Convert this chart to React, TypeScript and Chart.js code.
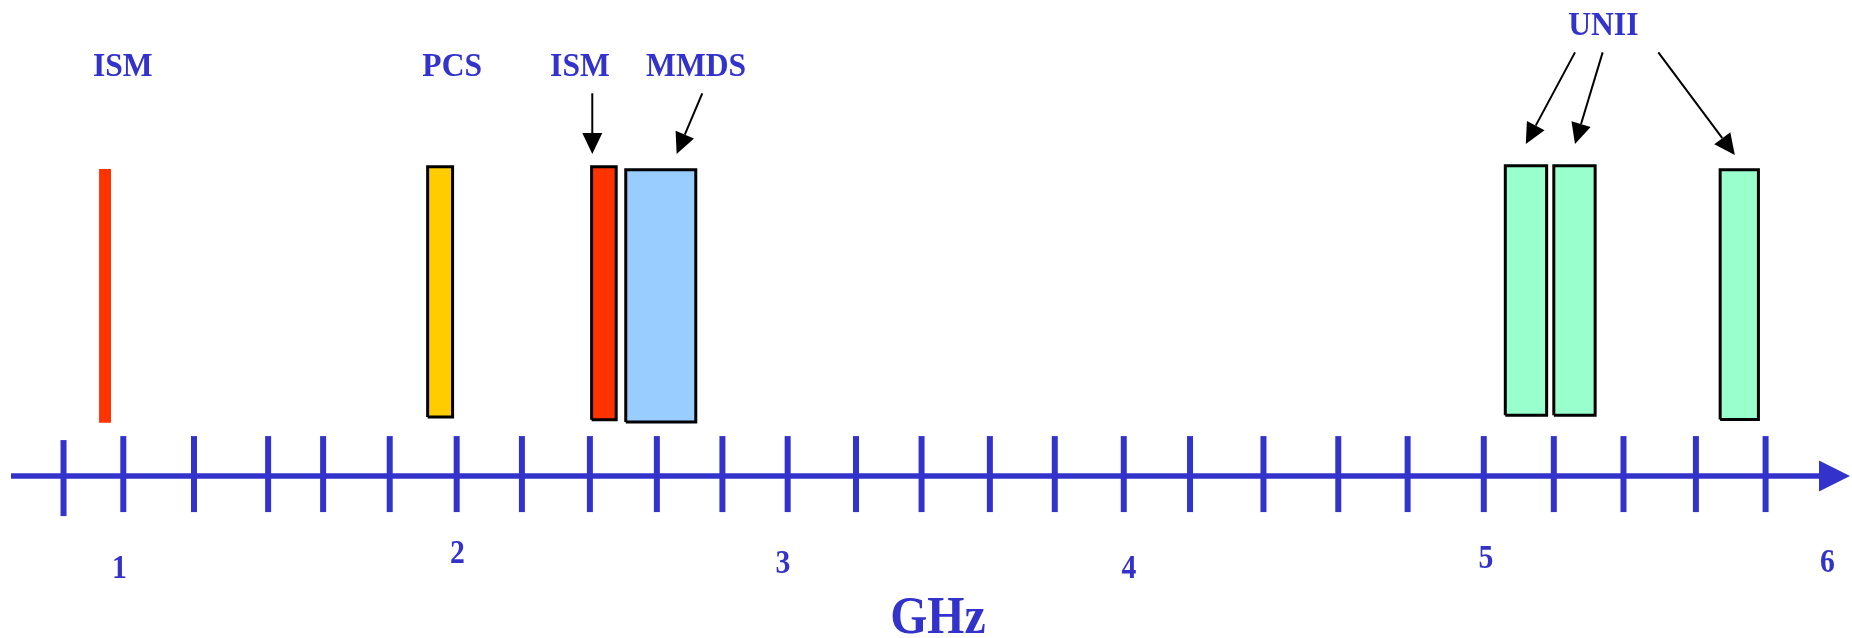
import React, { useEffect, useRef } from "react";
import { Chart, registerables } from "chart.js";

Chart.register(...registerables);

// ---- Data (GHz on x, relative band height on y) ----
const BAND_NAMES = ["ISM", "PCS", "ISM", "MMDS", "UNII-1", "UNII-2", "UNII-3"];
const BAND_START = [0.940, 1.902, 2.382, 2.482, 5.057, 5.199, 5.686];
const BAND_END = [0.975, 1.975, 2.454, 2.687, 5.178, 5.320, 5.798];
const BAND_LOW = [-1.3, 0.9, -0.1, -1.0, 1.6, 1.6, 0.0];
const BAND_HIGH = [98.5, 99.4, 99.4, 98.2, 99.8, 99.8, 98.2];
const BAND_FILL = ["#FF3300", "#FFCC00", "#FF3300", "#99CCFF", "#99FFCC", "#99FFCC", "#99FFCC"];
const BAND_OUTLINED = [false, true, true, true, true, true, true];

const AXIS_TICKS = [
  0.836, 1.011, 1.218, 1.435, 1.596, 1.791, 1.987, 2.178, 2.377, 2.573, 2.765, 2.956, 3.156,
  3.348, 3.548, 3.738, 3.940, 4.134, 4.349, 4.568, 4.771, 4.994, 5.199, 5.403, 5.615, 5.819,
];
const TICK_LABELS = ["1", "2", "3", "4", "5", "6"];
const TICK_LABEL_AT = [1.0, 1.989, 2.942, 3.955, 5.0, 6.0];
const AXIS_TITLE = "GHz";

const NAME_LABELS = ["ISM", "PCS", "ISM", "MMDS", "UNII"];
const NAME_LABEL_X = [1.0095, 1.974, 2.348, 2.688, 5.344];
const NAME_LABEL_Y = [135.1, 135.1, 135.1, 135.1, 151.2];

const ARROW_FROM_X = [2.384, 2.706, 5.261, 5.342, 5.505];
const ARROW_FROM_Y = [128.3, 128.3, 144.4, 144.4, 144.4];
const ARROW_TO_X = [2.384, 2.631, 5.117, 5.261, 5.729];
const ARROW_TO_Y = [104.4, 104.4, 108.3, 108.3, 104.0];

const X_MIN = 0.65;
const X_MAX = 6.072;
const Y_MIN = -86;
const Y_MAX = 165;
const AXIS_LEVEL = -22.3;
const TICK_LABEL_LEVEL = -60.0;
const TITLE_LEVEL = -84.2;
const TITLE_AT = 3.396;

// style: hand-placed vertical nudges (px) of the number labels
const TICK_LABEL_NUDGE = [6, -9, 1, 6, -4, 0];

const BLUE = "#3333CC";
const FONT = '"Liberation Serif", "Times New Roman", serif';

function drawText(ctx: CanvasRenderingContext2D, text: string, x: number, y: number, size: number, sx: number) {
  ctx.save();
  ctx.translate(x, y);
  ctx.scale(sx, 1);
  ctx.font = `bold ${size}px ${FONT}`;
  ctx.textAlign = "center";
  ctx.textBaseline = "alphabetic";
  ctx.fillStyle = BLUE;
  ctx.fillText(text, 0, 0);
  ctx.restore();
}

const spectrumPlugin = {
  id: "spectrumAxis",
  afterDatasetsDraw(chart: any) {
    const ctx: CanvasRenderingContext2D = chart.ctx;
    const xs = chart.scales.x;
    const ys = chart.scales.y;
    const area = chart.chartArea;
    const axisY = ys.getPixelForValue(AXIS_LEVEL);

    ctx.save();
    // axis line + arrow head
    const headLen = 31;
    const headHalf = 15.5;
    const tipX = area.right - 2;
    ctx.strokeStyle = BLUE;
    ctx.fillStyle = BLUE;
    ctx.lineWidth = 5.5;
    ctx.beginPath();
    ctx.moveTo(area.left + 11, axisY);
    ctx.lineTo(tipX - headLen + 2, axisY);
    ctx.stroke();
    ctx.beginPath();
    ctx.moveTo(tipX, axisY);
    ctx.lineTo(tipX - headLen, axisY - headHalf);
    ctx.lineTo(tipX - headLen, axisY + headHalf);
    ctx.closePath();
    ctx.fill();

    // tick marks
    ctx.lineWidth = 6;
    AXIS_TICKS.forEach((v, i) => {
      const px = xs.getPixelForValue(v);
      const shift = i === 0 ? 4 : 0;
      ctx.beginPath();
      ctx.moveTo(px, axisY - 40 + shift);
      ctx.lineTo(px, axisY + 36 + shift);
      ctx.stroke();
    });

    // tick labels
    const labelY = ys.getPixelForValue(TICK_LABEL_LEVEL);
    TICK_LABELS.forEach((t, i) => {
      drawText(ctx, t, xs.getPixelForValue(TICK_LABEL_AT[i]), labelY + TICK_LABEL_NUDGE[i], 33, 0.9);
    });

    // axis title
    drawText(ctx, AXIS_TITLE, xs.getPixelForValue(TITLE_AT), ys.getPixelForValue(TITLE_LEVEL), 53, 0.9);

    // band name labels
    NAME_LABELS.forEach((t, i) => {
      drawText(ctx, t, xs.getPixelForValue(NAME_LABEL_X[i]), ys.getPixelForValue(NAME_LABEL_Y[i]), 34, 0.93);
    });

    // annotation arrows
    ctx.strokeStyle = "#000000";
    ctx.fillStyle = "#000000";
    ctx.lineWidth = 2;
    ARROW_FROM_X.forEach((fx, i) => {
      const x1 = xs.getPixelForValue(fx);
      const y1 = ys.getPixelForValue(ARROW_FROM_Y[i]);
      const x2 = xs.getPixelForValue(ARROW_TO_X[i]);
      const y2 = ys.getPixelForValue(ARROW_TO_Y[i]);
      const ang = Math.atan2(y2 - y1, x2 - x1);
      const len = 21;
      const half = 10;
      const bx = x2 - len * Math.cos(ang);
      const by = y2 - len * Math.sin(ang);
      ctx.beginPath();
      ctx.moveTo(x1, y1);
      ctx.lineTo(bx, by);
      ctx.stroke();
      ctx.beginPath();
      ctx.moveTo(x2, y2);
      ctx.lineTo(bx + half * Math.sin(ang), by - half * Math.cos(ang));
      ctx.lineTo(bx - half * Math.sin(ang), by + half * Math.cos(ang));
      ctx.closePath();
      ctx.fill();
    });
    ctx.restore();
  },
};

export default function App() {
  const canvasRef = useRef<HTMLCanvasElement | null>(null);

  useEffect(() => {
    if (!canvasRef.current) return;
    const datasets = BAND_NAMES.map((name, i) => ({
      type: "line" as const,
      label: name,
      data: [
        { x: BAND_START[i], y: BAND_LOW[i] },
        { x: BAND_START[i], y: BAND_HIGH[i] },
        { x: BAND_END[i], y: BAND_HIGH[i] },
        { x: BAND_END[i], y: BAND_LOW[i] },
        { x: BAND_START[i], y: BAND_LOW[i] },
      ],
      backgroundColor: BAND_FILL[i],
      borderColor: BAND_OUTLINED[i] ? "#000000" : BAND_FILL[i],
      borderWidth: BAND_OUTLINED[i] ? 3 : 0,
      borderJoinStyle: "miter" as const,
      fill: "shape",
      pointRadius: 0,
      tension: 0,
    }));

    const chart = new Chart(canvasRef.current, {
      type: "line",
      data: { datasets: datasets as any },
      options: {
        animation: false,
        responsive: false,
        events: [],
        layout: { padding: 0, autoPadding: false },
        plugins: { legend: { display: false }, tooltip: { enabled: false } },
        scales: {
          x: { type: "linear", min: X_MIN, max: X_MAX, display: false },
          y: { type: "linear", min: Y_MIN, max: Y_MAX, display: false },
        },
      },
      plugins: [spectrumPlugin],
    });
    return () => chart.destroy();
  }, []);

  return (
    <div style={{ position: "absolute", left: 0, top: 0, width: 1852, height: 638, background: "#ffffff" }}>
      <canvas ref={canvasRef} width={1852} height={638} style={{ display: "block" }} />
    </div>
  );
}
